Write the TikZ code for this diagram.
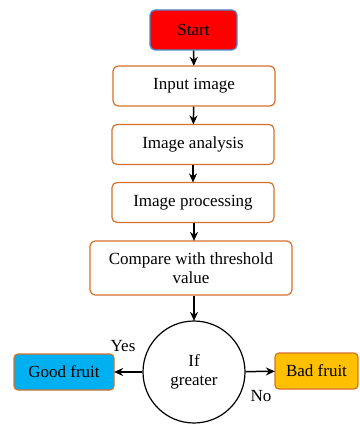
\documentclass[tikz,border=0pt]{standalone}
\usepackage{fontspec}
\setmainfont{Liberation Serif}
\usetikzlibrary{positioning,arrows.meta}
\definecolor{boxorange}{RGB}{214,112,44}
\definecolor{startblue}{RGB}{70,140,210}
\definecolor{goodblue}{RGB}{0,176,240}
\definecolor{badyellow}{RGB}{255,192,0}
\tikzset{
  stepbox/.style={draw=boxorange, line width=1.2pt, rounded corners=5pt, fill=white, minimum height=40pt, align=center},
  flow/.style={-{Stealth[length=9pt,width=8pt]}, line width=1.5pt, shorten >=-0.5pt}
}

\begin{document}
\begin{tikzpicture}[x=1pt, y=-1pt, font=\fontsize{17}{19.5}\selectfont]
\useasboundingbox (0,0) rectangle (359,425);
% steps
\node[stepbox, draw=startblue, fill=red, minimum width=87pt] (Start) at (193.5, 30) {Start};
\node[stepbox, minimum width=162pt] (In) at (194, 86) {Input image};
\node[stepbox, minimum width=162pt] (An) at (193, 144.5) {Image analysis};
\node[stepbox, minimum width=162pt] (Pr) at (193, 202.5) {Image processing};
\node[stepbox, minimum width=202pt, minimum height=54pt] (Cmp) at (191, 268) {Compare with threshold\\value};
% decision
\node[draw, circle, line width=1.2pt, minimum size=102pt, align=center] (If) at (194, 372) {If\\greater};
\node[stepbox, rounded corners=4pt, fill=goodblue, minimum width=100pt, minimum height=36pt] (Good) at (64, 372) {Good fruit};
\node[stepbox, rounded corners=4pt, fill=badyellow, minimum width=83pt, minimum height=36pt] (Bad) at (316.5, 371) {Bad fruit};
\node (Yes) at (123, 346) {Yes};
\node (No) at (261, 396) {No};

\draw[flow] (Start) -- (In);
\draw[flow] (In) -- (An);
\draw[flow] (An) -- (Pr);
\draw[flow] ([xshift=1pt]Pr.south) -- ([xshift=3pt]Cmp.north);
\draw[flow] ([xshift=3pt]Cmp.south) -- (If);
\draw[flow] (If) -- (Good);
\draw[flow] (If) -- (Bad);
\end{tikzpicture}
\end{document}
